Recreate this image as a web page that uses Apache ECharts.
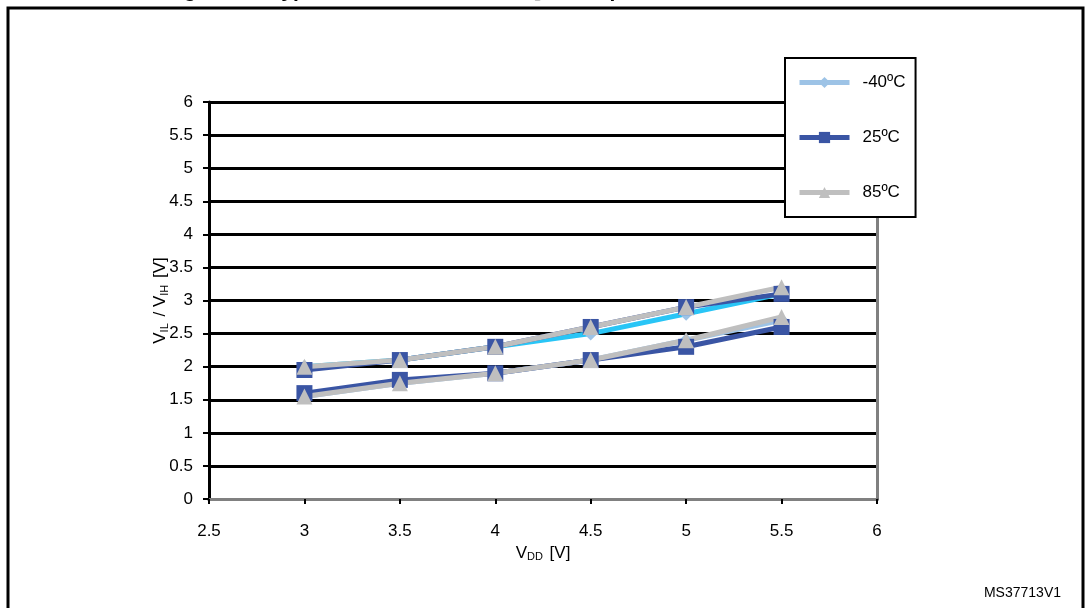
<!DOCTYPE html>
<html>
<head>
<meta charset="utf-8">
<script src="https://cdn.jsdelivr.net/npm/echarts@6/dist/echarts.min.js"></script>
<style>
  html, body { margin: 0; padding: 0; background: #fff; }
  #chart { width: 1085px; height: 608px; }
</style>
</head>
<body>
<div id="chart"></div>
<script>
  // VDD supply voltage [V]
  const vdd = [3, 3.5, 4, 4.5, 5, 5.5]
  // VIH (upper curves)
  const vihM40 = [2.0, 2.1, 2.3, 2.5, 2.8, 3.1]
  const vih25 = [1.95, 2.1, 2.3, 2.6, 2.9, 3.1]
  const vih85 = [2.0, 2.1, 2.3, 2.6, 2.9, 3.2]
  // VIL (lower curves)
  const vilM40 = [1.55, 1.75, 1.9, 2.1, 2.4, 2.7]
  const vil25 = [1.6, 1.8, 1.9, 2.1, 2.3, 2.6]
  const vil85 = [1.55, 1.75, 1.9, 2.1, 2.4, 2.75]
  const tempNames = ['-40ºC', '25ºC', '85ºC']

  const font = 'Liberation Sans, Arial, sans-serif'
  const pairs = arr => vdd.map((x, i) => [x, arr[i]])

  const mkSeries = (name, data, lineColor, markColor, symbol, size) => ({
    name: name,
    type: 'line',
    data: pairs(data),
    symbol: symbol,
    symbolSize: size,
    showSymbol: true,
    animation: false,
    lineStyle: { color: lineColor, width: 5 },
    itemStyle: { color: markColor, borderWidth: 0 }
  })

  const chart = echarts.init(document.getElementById('chart'))
  const option = {
    backgroundColor: '#fff',
    animation: false,
    grid: { left: 209, right: 208, top: 102, bottom: 109 },
    legend: {
      orient: 'vertical',
      left: 785,
      top: 58,
      padding: [16, 10, 16, 12],
      borderColor: '#000',
      borderWidth: 2,
      backgroundColor: '#fff',
      itemWidth: 50,
      itemHeight: 14,
      itemGap: 38,
      textStyle: { fontFamily: font, fontSize: 17, color: '#000', padding: [0, 0, 0, 8] },
      data: [
        { name: tempNames[0], itemStyle: { color: '#9DC3E6' }, lineStyle: { color: '#9DC3E6', width: 5 } },
        { name: tempNames[1], itemStyle: { color: '#3A55A4' }, lineStyle: { color: '#3A55A4', width: 5 } },
        { name: tempNames[2], itemStyle: { color: '#BFBFBF' }, lineStyle: { color: '#BFBFBF', width: 5 } }
      ]
    },
    xAxis: [{
      type: 'value',
      min: 2.5,
      max: 6,
      interval: 0.5,
      name: 'V{sub|DD} [V]',
      nameLocation: 'middle',
      nameGap: 43,
      nameTextStyle: {
        fontFamily: font, fontSize: 17, color: '#000',
        rich: { sub: { fontFamily: font, fontSize: 11, color: '#000', padding: [8, 2, 0, 0] } }
      },
      axisLine: { show: true, lineStyle: { color: '#000', width: 3 } },
      axisTick: { show: true, length: 5, lineStyle: { color: '#000', width: 2 } },
      axisLabel: { fontFamily: font, fontSize: 17, color: '#000', margin: 24 },
      splitLine: { show: false }
    }, {
      type: 'value',
      position: 'top',
      min: 2.5,
      max: 6,
      axisLine: { show: true, lineStyle: { color: '#808080', width: 3 } },
      axisTick: { show: false },
      axisLabel: { show: false },
      splitLine: { show: false }
    }],
    yAxis: [{
      type: 'value',
      min: 0,
      max: 6,
      interval: 0.5,
      name: 'V{sub|IL} / V{sub|IH} [V]',
      nameLocation: 'middle',
      nameRotate: 90,
      nameGap: 39,
      nameMoveOverlap: false,
      nameTextStyle: {
        fontFamily: font, fontSize: 17, color: '#000',
        rich: { sub: { fontFamily: font, fontSize: 11, color: '#000', padding: [8, 2, 0, 0] } }
      },
      axisLine: { show: true, lineStyle: { color: '#000', width: 3 } },
      axisTick: { show: true, length: 6, lineStyle: { color: '#000', width: 2 } },
      axisLabel: { fontFamily: font, fontSize: 17, color: '#000', margin: 16 },
      splitLine: { show: true, lineStyle: { color: '#000', width: 3 } }
    }, {
      type: 'value',
      position: 'right',
      min: 0,
      max: 6,
      axisLine: { show: true, lineStyle: { color: '#808080', width: 3 } },
      axisTick: { show: false },
      axisLabel: { show: false },
      splitLine: { show: false }
    }],
    series: [
      mkSeries(tempNames[0], vihM40, '#29C5F6', '#9DC3E6', 'diamond', 14),
      mkSeries(tempNames[0], vilM40, '#9DC3E6', '#9DC3E6', 'diamond', 14),
      mkSeries(tempNames[1], vih25, '#3A55A4', '#3A55A4', 'rect', 16),
      mkSeries(tempNames[1], vil25, '#3A55A4', '#3A55A4', 'rect', 16),
      mkSeries(tempNames[2], vih85, '#BFBFBF', '#BFBFBF', 'triangle', 16),
      mkSeries(tempNames[2], vil85, '#BFBFBF', '#BFBFBF', 'triangle', 16)
    ],
    graphic: [
      {
        type: 'rect',
        shape: { x: 8, y: 8, width: 1075, height: 640 },
        style: { fill: null, stroke: '#000', lineWidth: 3 },
        silent: true,
        z: -1
      },
      {
        type: 'text',
        left: 165,
        top: -19,
        style: {
          text: 'Figure 31. Typical V{sub|IL} and V{sub|IH} vs V{sub|DD} @ 3 temperatures',
          font: 'bold 21px ' + font,
          fill: '#000',
          rich: { sub: { font: 'bold 14px ' + font, fill: '#000', padding: [9, 1, 0, 0] } }
        }
      },
      {
        type: 'text',
        right: 24,
        top: 586,
        style: { text: 'MS37713V1', font: '14px ' + font, fill: '#000' }
      }
    ]
  }
  chart.setOption(option)
</script>
</body>
</html>
